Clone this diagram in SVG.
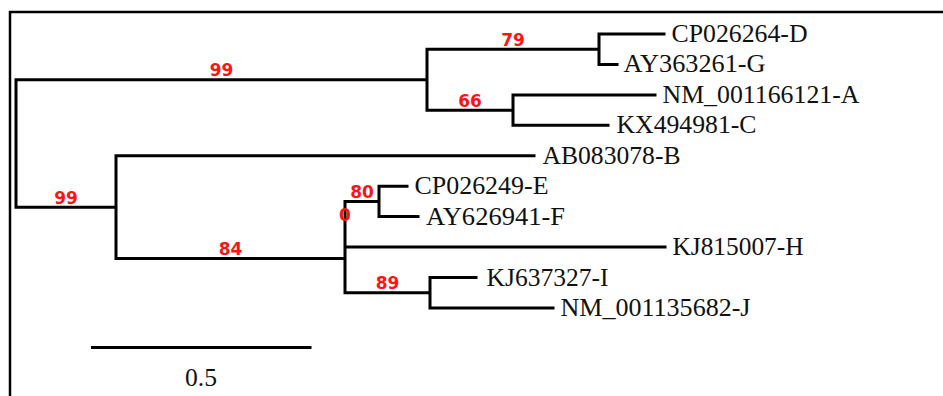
<svg xmlns="http://www.w3.org/2000/svg" width="943" height="396" viewBox="0 0 943 396">
<style>
.frame{fill:none;stroke:#000;stroke-width:2.5}
.br{fill:none;stroke:#000;stroke-width:3;stroke-linecap:square;stroke-linejoin:miter}
.leaf{font-family:'Liberation Serif','Times New Roman',serif;font-size:24.5px;fill:#111}
.bs{font-family:'DejaVu Sans',Verdana,sans-serif;font-size:17px;font-weight:bold;fill:#ff1414;text-anchor:middle}
</style>
<rect width="943" height="396" fill="#fff"/>
<path class="frame" d="M10 396 V12 H943"/>
<g id="connectors">
<path class="br" d="M16 79.7 V207.15 M16 79.7 H427 M427 49.2 V110.15 M427 49.2 H599 M599 34 V64.4 M599 34 H664 M599 64.4 H617 M427 110.15 H513 M513 95 V125.3 M513 95 H655 M513 125.3 H608 M16 207.15 H116 M116 155.8 V258.5 M116 155.8 H534 M116 258.5 H345 M345 201.4 V292.75 M345 201.4 H379 M379 186.2 V216.6 M379 186.2 H407 M379 216.6 H418 M345 247.1 H665 M345 292.75 H430 M430 277.5 V308 M430 277.5 H476 M430 308 H553"/>
</g>
<g id="bootstrap">
<text class="bs" x="221.5" y="76">99</text>
<text class="bs" x="513" y="45.5">79</text>
<text class="bs" x="470" y="106.5">66</text>
<text class="bs" x="66" y="203.5">99</text>
<text class="bs" x="230.5" y="255">84</text>
<text class="bs" x="362" y="197.5">80</text>
<text class="bs" x="345" y="221">0</text>
<text class="bs" x="387.5" y="289">89</text>
</g>
<g id="leaf-D"><text class="leaf" x="671.5" y="42" textLength="136" lengthAdjust="spacingAndGlyphs">CP026264-D</text></g>
<g id="leaf-G"><text class="leaf" x="623.5" y="72.4" textLength="142" lengthAdjust="spacingAndGlyphs">AY363261-G</text></g>
<g id="leaf-A"><text class="leaf" x="662.5" y="103" textLength="197" lengthAdjust="spacingAndGlyphs">NM_001166121-A</text></g>
<g id="leaf-C"><text class="leaf" x="616.5" y="133.3" textLength="140" lengthAdjust="spacingAndGlyphs">KX494981-C</text></g>
<g id="leaf-B"><text class="leaf" x="542.5" y="163.8" textLength="138" lengthAdjust="spacingAndGlyphs">AB083078-B</text></g>
<g id="leaf-E"><text class="leaf" x="414.5" y="194.2" textLength="134" lengthAdjust="spacingAndGlyphs">CP026249-E</text></g>
<g id="leaf-F"><text class="leaf" x="426" y="224.6" textLength="139" lengthAdjust="spacingAndGlyphs">AY626941-F</text></g>
<g id="leaf-H"><text class="leaf" x="672.5" y="255.1" textLength="131" lengthAdjust="spacingAndGlyphs">KJ815007-H</text></g>
<g id="leaf-I"><text class="leaf" x="486.5" y="285.5" textLength="122" lengthAdjust="spacingAndGlyphs">KJ637327-I</text></g>
<g id="leaf-J"><text class="leaf" x="560.5" y="316" textLength="190" lengthAdjust="spacingAndGlyphs">NM_001135682-J</text></g>
<g id="scale-bar">
<path class="br" d="M91 347.5 H311.5" style="stroke-linecap:butt"/>
<text class="leaf" x="201" y="386" text-anchor="middle" textLength="32" lengthAdjust="spacingAndGlyphs">0.5</text>
</g>
</svg>
